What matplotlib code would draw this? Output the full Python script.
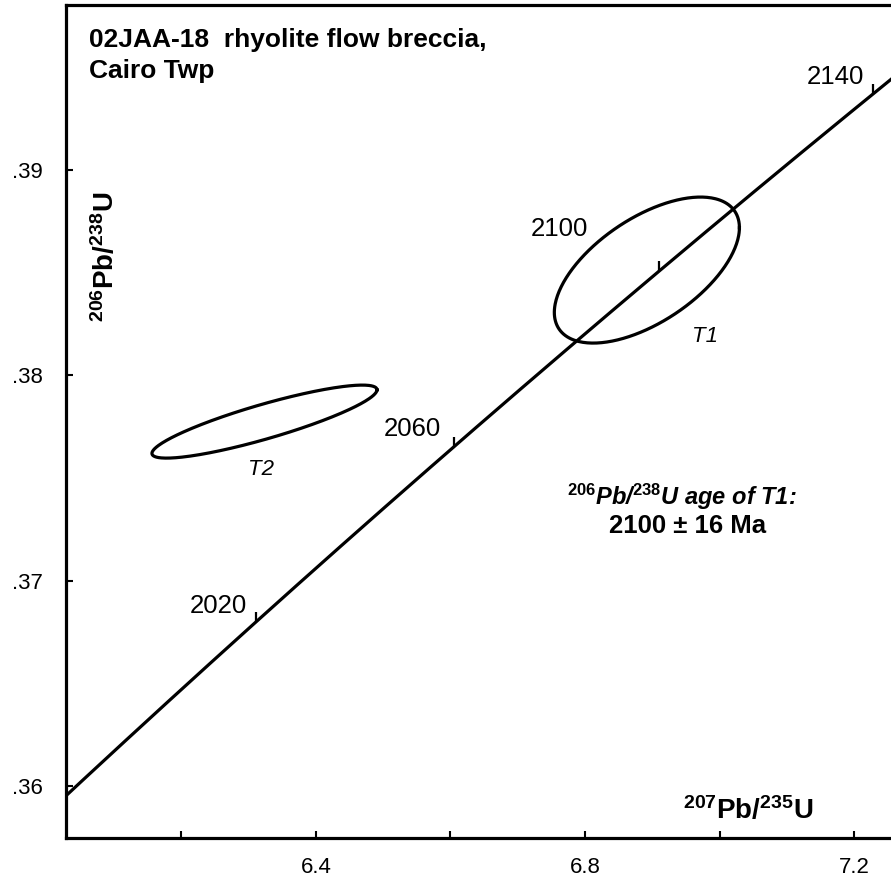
import numpy as np
import matplotlib
matplotlib.use("Agg")
import matplotlib.pyplot as plt

plt.rcParams['font.family'] = ['Liberation Sans', 'DejaVu Sans']
plt.rcParams['mathtext.fontset'] = 'custom'
plt.rcParams['mathtext.rm'] = 'Liberation Sans:bold'
plt.rcParams['mathtext.bf'] = 'Liberation Sans:bold'
plt.rcParams['mathtext.it'] = 'Liberation Sans:bold:italic'

# decay constants (per year)
lambda_238 = 1.55125e-10
lambda_235 = 9.8485e-10

# concordia age marks (Ma) and their labels
tick_ages = [1980, 2020, 2060, 2100, 2140]
label_ages = [2020, 2060, 2100, 2140]
label_offsets = [(-38, 16), (-41, 18), (-100, 42), (-38, 17)]  # pixels from tick

# error ellipses: centre (207/235, 206/238), half widths, correlation
ellipse_names = ["T1", "T2"]
ellipse_cx = [6.892, 6.3234]
ellipse_cy = [0.38513, 0.37775]
ellipse_ax = [0.1376, 0.1673]
ellipse_ay = [0.003556, 0.001778]
ellipse_rho = [0.58, 0.87]
ellipse_label_xy = [(6.978, 0.3819), (6.318, 0.3754)]

x_ticks = [6.2, 6.4, 6.6, 6.8, 7.0, 7.2]
x_ticklabels = ["", "6.4", "", "6.8", "", "7.2"]
y_ticks = [0.36, 0.37, 0.38, 0.39]
y_ticklabels = [".36", ".37", ".38", ".39"]


def concordia(age_ma):
    t = np.asarray(age_ma) * 1e6
    return np.exp(lambda_235 * t) - 1, np.exp(lambda_238 * t) - 1


def ellipse_path(cx, cy, ax_, ay_, rho):
    th = np.linspace(0, 2 * np.pi, 300)
    d = np.arccos(rho)
    return cx + ax_ * np.cos(th), cy + ay_ * np.cos(th + d)


fig = plt.figure(figsize=(8.91, 8.77), dpi=100)
ax = fig.add_axes([66 / 891, 39 / 877, 1 - 66 / 891, 833 / 877])

ages = np.linspace(1960, 2170, 400)
cx, cy = concordia(ages)
ax.plot(cx, cy, color='black', lw=2.3, solid_capstyle='butt')

tx, ty = concordia(tick_ages)
ax.plot(tx, ty, ls='none', marker=2, markersize=7, mew=1.6, color='black')

for age, off in zip(label_ages, label_offsets):
    px, py = concordia(age)
    ax.annotate(str(age), (px, py), xytext=off, textcoords='offset pixels',
                ha='center', va='center', fontsize=18.5)

for i in range(len(ellipse_names)):
    ex, ey = ellipse_path(ellipse_cx[i], ellipse_cy[i], ellipse_ax[i],
                          ellipse_ay[i], ellipse_rho[i])
    ax.plot(ex, ey, color='black', lw=2.3)
    ax.text(ellipse_label_xy[i][0], ellipse_label_xy[i][1], ellipse_names[i],
            style='italic', fontsize=16, ha='center', va='center')

ax.set_xlim(6.0283, 7.255)
ax.set_ylim(0.35747, 0.39804)
ax.set_xticks(x_ticks)
ax.set_xticklabels(x_ticklabels)
ax.set_yticks(y_ticks)
ax.set_yticklabels(y_ticklabels)
ax.tick_params(direction='in', length=5, width=1.5, labelsize=16, pad=14)
ax.tick_params(axis='y', pad=16.5)
ax.spines['right'].set_visible(False)
for s in ['left', 'bottom', 'top']:
    ax.spines[s].set_linewidth(2.3)

fig.text(89 / 891, 1 - 28 / 877, "02JAA-18  rhyolite flow breccia,\nCairo Twp",
         fontsize=19, fontweight='bold', va='top', ha='left', linespacing=1.35)

fig.text(106 / 891, 1 - 257 / 877, r'$^{206}$Pb/$^{238}$U', rotation=90,
         fontsize=20, fontweight='bold', ha='center', va='center')
fig.text(748 / 891, 1 - 811 / 877, r'$^{207}$Pb/$^{235}$U',
         fontsize=20, fontweight='bold', ha='center', va='center')

fig.text(682 / 891, 1 - 497 / 877, r'$^{\mathit{206}}$Pb/$^{\mathit{238}}$U age of T1:',
         fontsize=17, fontweight='bold', style='italic', ha='center', va='center')
fig.text(688 / 891, 1 - 526 / 877, "2100 \u00b1 16 Ma",
         fontsize=18.5, fontweight='bold', ha='center', va='center')

fig.savefig("out.png", dpi=100)
